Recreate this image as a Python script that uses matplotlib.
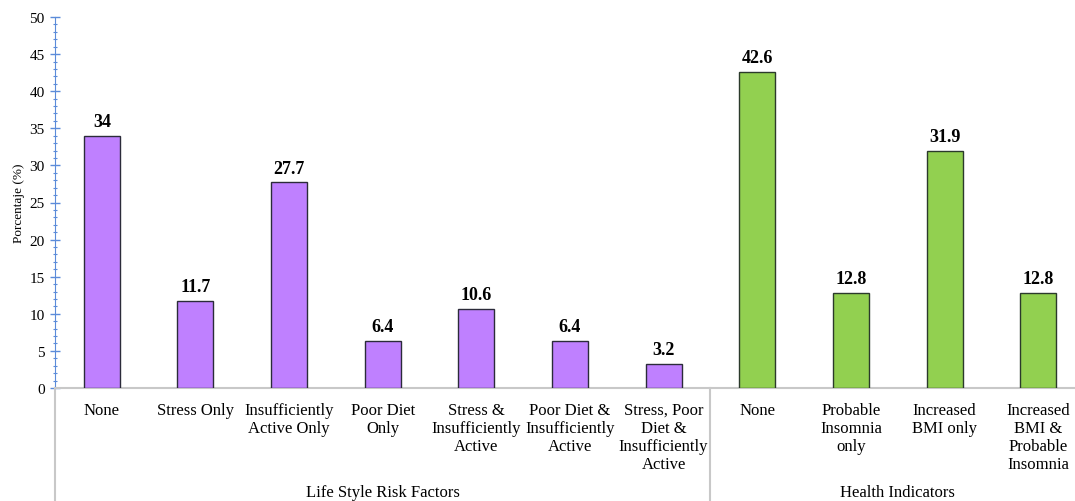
import numpy as np
from matplotlib import pyplot as plt
from matplotlib.ticker import MultipleLocator

# data
lifestyle_labels = ['None', 'Stress Only', 'Insufficiently\nActive Only', 'Poor Diet\nOnly',
                    'Stress &\nInsufficiently\nActive', 'Poor Diet &\nInsufficiently\nActive',
                    'Stress, Poor\nDiet &\nInsufficiently\nActive']
lifestyle_vals = [34, 11.7, 27.7, 6.4, 10.6, 6.4, 3.2]

health_labels = ['None', 'Probable\nInsomnia\nonly', 'Increased\nBMI only',
                 'Increased\nBMI &\nProbable\nInsomnia']
health_vals = [42.6, 12.8, 31.9, 12.8]

groups = ['Life Style Risk Factors', 'Health Indicators']

plt.rcParams['font.family'] = ['Liberation Serif', 'DejaVu Serif']

fig = plt.figure(figsize=(10.75, 5.02), dpi=100)
# axis spans x 55..1085 px (runs off right edge), y 18..389 px
ax = fig.add_axes([55/1075, (502-389)/502, 1030/1075, 371/502])

n1 = len(lifestyle_vals)
n2 = len(health_vals)
x1 = np.arange(n1)
x2 = np.arange(n1, n1 + n2)
w = 0.385

ax.bar(x1, lifestyle_vals, width=w, color='#BF80FF', edgecolor='#2b2b3a', linewidth=1.0, zorder=3)
ax.bar(x2, health_vals, width=w, color='#92D050', edgecolor='#2b3a2b', linewidth=1.0, zorder=3)

for xs, vs in [(x1, lifestyle_vals), (x2, health_vals)]:
    for x, v in zip(xs, vs):
        ax.text(x, v + 0.8, ('%g' % v), ha='center', va='bottom', fontsize=13, fontweight='bold')

ax.set_xlim(-0.5, n1 + n2 - 0.5)
ax.set_ylim(0, 50)
ax.yaxis.set_major_locator(MultipleLocator(5))
ax.yaxis.set_minor_locator(MultipleLocator(1))
ax.tick_params(axis='y', which='major', direction='inout', length=7, width=1, color='#5B8BD9',
               labelsize=11, pad=4)
ax.tick_params(axis='y', which='minor', direction='inout', length=3, width=0.8, color='#5B8BD9')
ax.set_ylabel('Porcentaje (%)', fontsize=9.5, labelpad=3)

for s in ['top', 'right']:
    ax.spines[s].set_visible(False)
ax.spines['left'].set_color('#5B8BD9')
ax.spines['bottom'].set_color('#c8c8c8')
ax.spines['bottom'].set_linewidth(1.5)

ax.set_xticks([])
# category labels
for x, lab in zip(list(x1) + list(x2), lifestyle_labels + health_labels):
    ax.text(x, -1.9, lab, ha='center', va='top', fontsize=12, linespacing=1.16)

# group separators and labels
trans = ax.get_xaxis_transform()
for xv in [-0.5, n1 - 0.5]:
    ax.plot([xv, xv], [0, -0.4], transform=trans, color='#c8c8c8', linewidth=1.5, clip_on=False)
ax.text((n1 - 1) / 2, -0.28, groups[0], transform=trans, ha='center', va='center', fontsize=12)
ax.text(n1 + (n2 - 1) / 2, -0.28, groups[1], transform=trans, ha='center', va='center', fontsize=12)

fig.savefig('out.png', dpi=100)
